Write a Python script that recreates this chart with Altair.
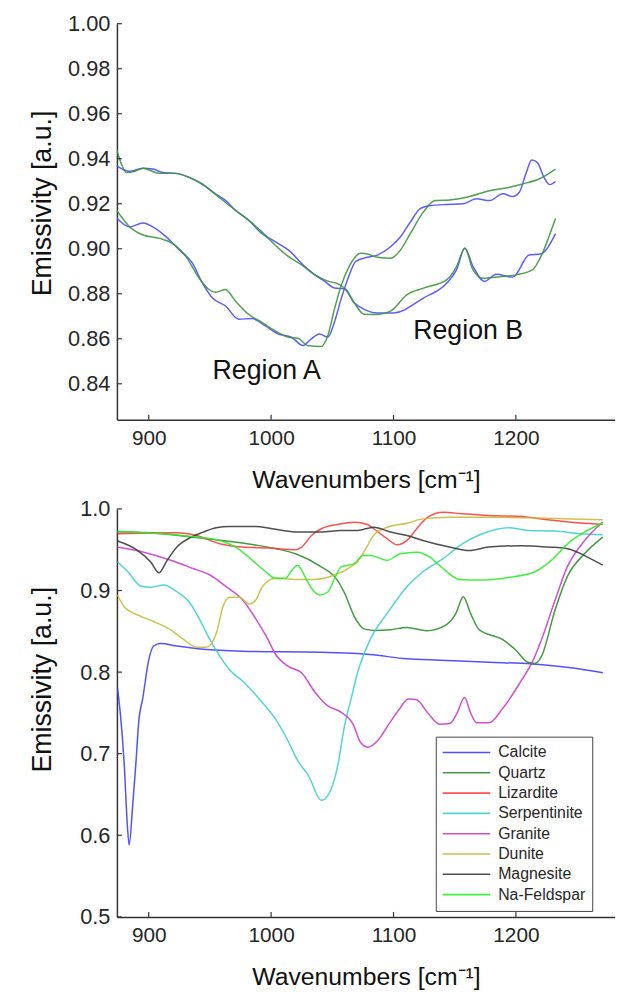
import altair as alt
import pandas as pd

FONT = "Liberation Sans"
TXT = "#262626"

# ---------------- Top panel (emissivity, two regions) ----------------
a_blue_x = [873.7, 884.5, 895.3, 903.4, 914.2, 925, 935.7, 943.8, 951.9, 962.7, 973.5, 984.3, 995.1,
            1005.9, 1016.6, 1026.1, 1032.8, 1039.6, 1046.3, 1051.7, 1057.1, 1062.5, 1069.2, 1078.7,
            1086.8, 1097.6, 1105.7, 1113.8, 1121.8, 1129.9, 1143.4, 1156.9, 1167.7, 1178.5, 1189.3,
            1197.4, 1202.8, 1208.1, 1213, 1217.6, 1223, 1227.6, 1232.4]
a_blue_y = [0.9138, 0.9097, 0.9115, 0.9097, 0.9053, 0.8995, 0.8936, 0.8848, 0.8782, 0.8746, 0.8687,
            0.869, 0.8658, 0.8621, 0.8607, 0.857, 0.860, 0.8621, 0.8607, 0.8673, 0.8775, 0.8863,
            0.8944, 0.8962, 0.8972, 0.9009, 0.9053, 0.9119, 0.9178, 0.9192, 0.9197, 0.920, 0.9222,
            0.9214, 0.9244, 0.9232, 0.9251, 0.9332, 0.9394, 0.9383, 0.9317, 0.9285, 0.9299]
a_green_x = [873.7, 884.5, 895.3, 908.8, 919.5, 930.3, 941.1, 949.2, 954.6, 962.7, 970.8, 981.6, 992.4,
             1003.2, 1014, 1022, 1030.1, 1040.9, 1046.3, 1051.7, 1057.1, 1063.8, 1073.3, 1078.7,
             1086.8, 1097.6, 1105.7, 1113.8, 1124.5, 1134, 1146.1, 1159.6, 1178.5, 1192, 1205.5,
             1218.9, 1232.4]
a_green_y = [0.9171, 0.9097, 0.9061, 0.9046, 0.9024, 0.8966, 0.887, 0.8819, 0.8807, 0.8819, 0.8768,
             0.8709, 0.8673, 0.8636, 0.8607, 0.8602, 0.857, 0.8566, 0.8614, 0.8731, 0.8834, 0.8922,
             0.898, 0.8977, 0.8962, 0.8958, 0.8994, 0.9068, 0.9164, 0.9214, 0.9217, 0.9229, 0.9258,
             0.927, 0.9288, 0.931, 0.9354]
b_blue_x = [873.7, 884.5, 895.3, 903.4, 911.5, 922.2, 933, 941.1, 954.6, 962.7, 970.8, 981.6, 992.4,
            1003.2, 1014, 1027.4, 1035.5, 1043.6, 1051.7, 1060.3, 1067.9, 1076, 1086.8, 1100.3,
            1124.5, 1143.4, 1151.5, 1158.3, 1165, 1174.4, 1183.9, 1197.4, 1210.8, 1220.3, 1232.4]
b_blue_y = [0.9368, 0.9344, 0.9358, 0.9354, 0.9339, 0.9335, 0.9317, 0.9295, 0.9244, 0.9215, 0.9171,
            0.9127, 0.9068, 0.9032, 0.8995, 0.8922, 0.8885, 0.8856, 0.8826, 0.8822, 0.876, 0.8731,
            0.8715, 0.8715, 0.8781, 0.8847, 0.8906, 0.9002, 0.8921, 0.8855, 0.8887, 0.8874, 0.8972,
            0.8977, 0.9067]
b_green_x = [873.7, 877.7, 881.8, 887.2, 895.3, 908.8, 922.2, 933, 943.8, 957.3, 970.8, 981.6, 992.4,
             1003.2, 1014, 1024.7, 1035.5, 1046.3, 1054.4, 1060.3, 1067.9, 1076, 1086.8, 1097.6,
             1111.1, 1124.5, 1143.4, 1151.5, 1158.3, 1165, 1173.1, 1186.6, 1200.1, 1213.5, 1221.6,
             1227, 1232.4]
b_green_y = [0.9442, 0.9376, 0.9339, 0.9342, 0.9358, 0.9335, 0.9335, 0.9317, 0.9288, 0.9229, 0.9171,
             0.9127, 0.9075, 0.9017, 0.8966, 0.8929, 0.8885, 0.8856, 0.8845, 0.8822, 0.876, 0.8709,
             0.8708, 0.8723, 0.8796, 0.8825, 0.8862, 0.8921, 0.9002, 0.8906, 0.8869, 0.8876, 0.8884,
             0.8906, 0.8979, 0.9053, 0.9134]

top_series = ["A blue", "A green", "B blue", "B green"]
top_colors = ["#4a4aff", "#3c963c", "#4a4aff", "#3c963c"]

region_labels = ["Region A", "Region B"]
region_x = [996.4, 1161.0]
region_y = [0.8422, 0.8598]

top_xticks = [900, 1000, 1100, 1200]
top_yticks = [0.84, 0.86, 0.88, 0.90, 0.92, 0.94, 0.96, 0.98, 1.00]

# ---------------- Bottom panel (library spectra) ----------------
minerals = ["Calcite", "Quartz", "Lizardite", "Serpentinite", "Granite", "Dunite", "Magnesite", "Na-Feldspar"]
mineral_colors = ["#3f3fff", "#2f8f2f", "#ff3b3b", "#3fcfcf", "#cc3ccc", "#c4bd3a", "#3c3c3c", "#2aee2a"]

calcite_x = [874.5, 877, 880, 882.5, 884, 886.7, 889.4, 892, 895, 900, 904, 909.6, 923, 944.5, 976.7,
             1041, 1070.6, 1081, 1111, 1137.7, 1178, 1213, 1245, 1271]
calcite_y = [0.78, 0.746, 0.686, 0.613, 0.588, 0.633, 0.686, 0.742, 0.767, 0.815, 0.832, 0.835, 0.832,
             0.828, 0.8256, 0.8243, 0.8227, 0.8215, 0.8163, 0.8146, 0.8122, 0.810, 0.8054, 0.7993]
quartz_x = [874.5, 909, 935, 958, 986, 1005, 1020, 1041, 1052, 1060, 1068, 1076, 1085, 1097.5, 1111, 1127,
            1143, 1151, 1157, 1163, 1170, 1189, 1199.5, 1210, 1215.6, 1221, 1232, 1242, 1256, 1271]
quartz_y = [0.972, 0.97, 0.9655, 0.9615, 0.956, 0.951, 0.945, 0.929, 0.917, 0.897, 0.868, 0.853, 0.851,
            0.852, 0.8548, 0.8508, 0.858, 0.872, 0.8925, 0.872, 0.852, 0.84, 0.8277, 0.812, 0.8106,
            0.8195, 0.876, 0.917, 0.945, 0.9655]
lizardite_x = [874.5, 923, 939, 958, 976.7, 998, 1019.7, 1025, 1033, 1041, 1054.5, 1068, 1078.7, 1084,
               1094.8, 1103, 1111, 1119, 1128, 1140.5, 1156.5, 1178, 1205, 1226, 1245, 1271]
lizardite_y = [0.9696, 0.9708, 0.9675, 0.9574, 0.9533, 0.952, 0.950, 0.9533, 0.9675, 0.9757, 0.981,
               0.9837, 0.981, 0.9757, 0.9635, 0.956, 0.9614, 0.9757, 0.9898, 0.996, 0.994, 0.9918,
               0.9906, 0.9866, 0.9837, 0.981]
serpentinite_x = [874.5, 883, 893.5, 901.6, 912.3, 923, 933.8, 941.8, 949.9, 958, 966, 976.7, 987.5,
                  995.5, 1003.6, 1011.6, 1022.3, 1030.4, 1041, 1046.5, 1054.5, 1060, 1065.3, 1070.6,
                  1081, 1094.8, 1111, 1124, 1140.5, 1156.5, 1172.6, 1194, 1210, 1231.7, 1253, 1271]
serpentinite_y = [0.935, 0.923, 0.9055, 0.904, 0.9067, 0.8985, 0.8844, 0.864, 0.84, 0.8195, 0.803, 0.789,
                  0.772, 0.758, 0.7424, 0.722, 0.69, 0.6735, 0.643, 0.649, 0.6857, 0.7343, 0.7668,
                  0.7993, 0.84, 0.872, 0.9046, 0.923, 0.939, 0.9574, 0.9696, 0.977, 0.9736, 0.9728,
                  0.9696, 0.9684]
granite_x = [874.5, 896, 918, 936, 950, 963, 977, 988, 996, 1004, 1014, 1025, 1036, 1046, 1057, 1067,
             1073, 1079, 1087, 1097, 1105, 1112, 1119, 1128, 1138, 1146, 1152, 1158, 1163, 1168, 1178,
             1189, 1205, 1213, 1221, 1232, 1242, 1256, 1271]
granite_y = [0.953, 0.947, 0.937, 0.927, 0.919, 0.905, 0.888, 0.864, 0.844, 0.821, 0.807, 0.799, 0.775,
             0.759, 0.751, 0.736, 0.714, 0.708, 0.716, 0.738, 0.755, 0.767, 0.766, 0.75, 0.736, 0.737,
             0.75, 0.769, 0.75, 0.738, 0.738, 0.755, 0.791, 0.811, 0.84, 0.888, 0.929, 0.961, 0.984]
dunite_x = [874.5, 880, 891, 904, 917.7, 928.4, 939, 947, 955.3, 960.6, 966, 974, 982, 987.5, 992.8,
            1003.6, 1019.7, 1035.8, 1051.9, 1065, 1071, 1078, 1084, 1095, 1111, 1124, 1145.8, 1178,
            1218, 1271]
dunite_y = [0.8945, 0.880, 0.870, 0.862, 0.852, 0.84, 0.8305, 0.8305, 0.848, 0.880, 0.8917, 0.8917,
            0.8836, 0.8884, 0.9046, 0.915, 0.9136, 0.9136, 0.919, 0.929, 0.936, 0.953, 0.968, 0.9776,
            0.9825, 0.9878, 0.9898, 0.9898, 0.989, 0.9866]
magnesite_x = [874.5, 891, 901.6, 908.3, 915, 923, 933.8, 944.5, 955, 966, 976.7, 987.5, 1000.8, 1022,
               1041, 1057, 1070.6, 1084, 1097.5, 1111, 1124, 1145.8, 1162, 1178, 1205, 1226, 1242.4,
               1258.5, 1271]
magnesite_y = [0.9606, 0.949, 0.935, 0.9217, 0.937, 0.9533, 0.9647, 0.9716, 0.977, 0.9785, 0.9785,
               0.9785, 0.9757, 0.9716, 0.9716, 0.9736, 0.9736, 0.9776, 0.9716, 0.9675, 0.9614, 0.9533,
               0.949, 0.9533, 0.955, 0.9533, 0.9513, 0.941, 0.931]
feldspar_x = [874.5, 909.6, 939, 958, 971, 984.7, 995.5, 1003.6, 1011.6, 1017, 1021.8, 1027.7, 1033,
              1039.8, 1046.5, 1051.9, 1057.2, 1068, 1075, 1081, 1094.8, 1105.5, 1119, 1129.7, 1140.5,
              1153.8, 1170, 1194, 1215.6, 1229, 1242.4, 1258.5, 1271]
feldspar_y = [0.9724, 0.9696, 0.9655, 0.9614, 0.9533, 0.937, 0.923, 0.915, 0.915, 0.925, 0.931, 0.9168,
              0.9027, 0.8945, 0.8985, 0.915, 0.929, 0.933, 0.943, 0.943, 0.937, 0.945, 0.947, 0.941,
              0.927, 0.9136, 0.9128, 0.916, 0.923, 0.937, 0.9574, 0.9736, 0.9825]

bot_xticks = [900, 1000, 1100, 1200]
bot_yticks = [0.5, 0.6, 0.7, 0.8, 0.9, 1.0]

X_DOMAIN = [874, 1281]
W = 503


def frame(name, xs, ys):
    return pd.DataFrame({"series": name, "wn": xs, "em": ys, "idx": list(range(len(xs)))})


top_df = pd.concat([
    frame("A blue", a_blue_x, a_blue_y),
    frame("A green", a_green_x, a_green_y),
    frame("B blue", b_blue_x, b_blue_y),
    frame("B green", b_green_x, b_green_y),
])

bot_df = pd.concat([
    frame("Calcite", calcite_x, calcite_y),
    frame("Quartz", quartz_x, quartz_y),
    frame("Lizardite", lizardite_x, lizardite_y),
    frame("Serpentinite", serpentinite_x, serpentinite_y),
    frame("Granite", granite_x, granite_y),
    frame("Dunite", dunite_x, dunite_y),
    frame("Magnesite", magnesite_x, magnesite_y),
    frame("Na-Feldspar", feldspar_x, feldspar_y),
])


def x_axis():
    return alt.Axis(values=top_xticks, format="d", title="Wavenumbers [cm⁻¹]", ticks=False, tickSize=0,
                    grid=False, labelPadding=8, labelFontSize=21, labelFont=FONT, labelColor=TXT,
                    titleFontSize=25, titleFont=FONT, titleColor="#111", titleFontWeight="normal",
                    titleY=68, titleBaseline="alphabetic", domainColor="#333", domainWidth=1.5)


def y_axis(vals, fmt, title_y):
    return alt.Axis(values=vals, format=fmt, title="Emissivity [a.u.]", ticks=False, tickSize=0,
                    grid=False, labelPadding=7, labelFontSize=22, labelFont=FONT, labelColor=TXT,
                    titleFontSize=27, titleFont=FONT, titleColor="#111", titleFontWeight="normal",
                    titleX=-75, titleY=title_y, titleAngle=270, titleBaseline="middle",
                    domainColor="#333", domainWidth=1.5)


# ---- top panel ----
TOP_H = 400
top_x = alt.X("wn:Q", scale=alt.Scale(domain=X_DOMAIN, nice=False, zero=False), axis=x_axis())
top_y = alt.Y("em:Q", scale=alt.Scale(domain=[0.824, 1.0], nice=False, zero=False),
              axis=y_axis(top_yticks, ".2f", 181))

top_lines = alt.Chart(top_df).mark_line(strokeWidth=1.5, opacity=0.9, clip=True,
                                        interpolate="monotone").encode(
    x=top_x, y=top_y,
    color=alt.Color("series:N", scale=alt.Scale(domain=top_series, range=top_colors), legend=None),
    order="idx:Q",
)

region_df = pd.DataFrame({"label": region_labels, "wn": region_x, "em": region_y})
top_text = alt.Chart(region_df).mark_text(font=FONT, fontSize=27, color="#111", align="center",
                                          baseline="alphabetic").encode(
    x="wn:Q", y="em:Q", text="label:N")

top_xt = alt.Chart(pd.DataFrame({"t": top_xticks})).mark_rule(color="#333", strokeWidth=1.2).encode(
    x="t:Q", y=alt.value(TOP_H), y2=alt.value(TOP_H - 5))
top_yt = alt.Chart(pd.DataFrame({"t": top_yticks})).mark_rule(color="#333", strokeWidth=1.2).encode(
    y="t:Q", x=alt.value(0), x2=alt.value(5))

top = alt.layer(top_lines, top_text, top_xt, top_yt).properties(width=W, height=TOP_H)

# ---- bottom panel ----
BOT_H = 412
bot_x = alt.X("wn:Q", scale=alt.Scale(domain=X_DOMAIN, nice=False, zero=False), axis=x_axis())
bot_y = alt.Y("em:Q", scale=alt.Scale(domain=[0.5, 1.0], nice=False, zero=False),
              axis=y_axis(bot_yticks, ".1f", 172))

bot_lines = alt.Chart(bot_df).mark_line(strokeWidth=1.5, opacity=0.9, clip=True,
                                        interpolate="monotone").encode(
    x=bot_x, y=bot_y,
    color=alt.Color("series:N", sort=minerals,
                    scale=alt.Scale(domain=minerals, range=mineral_colors),
                    legend=alt.Legend(title=None, orient="none", legendX=322, legendY=230,
                                      symbolType="stroke", symbolSize=2304, symbolStrokeWidth=1.6,
                                      clipHeight=20, rowPadding=0.5, labelFontSize=16, labelFont=FONT,
                                      labelColor=TXT, labelOffset=7, padding=6,
                                      strokeColor="#444", fillColor="white")),
    order="idx:Q",
)

bot_xt = alt.Chart(pd.DataFrame({"t": bot_xticks})).mark_rule(color="#333", strokeWidth=1.2).encode(
    x="t:Q", y=alt.value(BOT_H), y2=alt.value(BOT_H - 5))
bot_yt = alt.Chart(pd.DataFrame({"t": bot_yticks})).mark_rule(color="#333", strokeWidth=1.2).encode(
    y="t:Q", x=alt.value(0), x2=alt.value(5))

bottom = alt.layer(bot_lines, bot_xt, bot_yt).properties(width=W, height=BOT_H)

chart = alt.vconcat(top, bottom, spacing=6).resolve_scale(
    color="independent", x="independent", y="independent"
).properties(
    padding={"left": 21, "top": 0, "right": 0, "bottom": 0}, background="white"
).configure_view(stroke=None).configure_axis(grid=False)

chart.save("out.html", embed_options={"renderer": "svg", "actions": False})
